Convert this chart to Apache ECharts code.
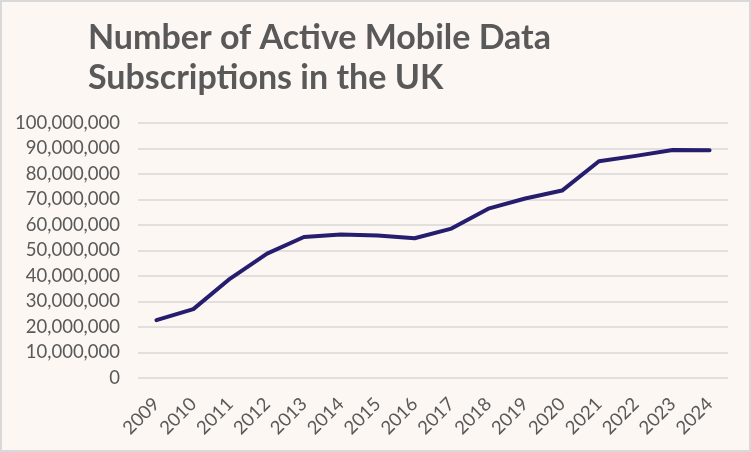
<!DOCTYPE html>
<html>
<head>
<meta charset="utf-8">
<script src="https://cdn.jsdelivr.net/npm/echarts@6/dist/echarts.min.js"></script>
<style>
    html, body { margin: 0; padding: 0; background: #fcf7f3; }
    #chart { width: 751px; height: 452px; }
</style>
</head>
<body>
<div id="chart"></div>
<script>
    // Data
    const years = ['2009', '2010', '2011', '2012', '2013', '2014', '2015', '2016',
        '2017', '2018', '2019', '2020', '2021', '2022', '2023', '2024'];
    const subscriptions = [22700000, 27000000, 39000000, 48800000, 55300000, 56300000, 55900000, 54800000,
        58600000, 66400000, 70400000, 73500000, 85000000, 87100000, 89400000, 89300000];

    let chartElem = document.getElementById('chart');
    let chart = echarts.init(chartElem);
    chart.setOption({
        backgroundColor: '#fcf7f3',
        textStyle: { fontFamily: 'Lato' },
        title: {
            text: 'Number of Active Mobile Data\nSubscriptions in the UK',
            left: 83,
            top: 13,
            textStyle: {
                fontFamily: 'Lato',
                fontSize: 34,
                fontWeight: 'bold',
                color: '#595959',
                lineHeight: 40
            }
        },
        graphic: [{
            type: 'rect',
            shape: { x: 1, y: 1, width: 749, height: 450 },
            style: { fill: 'none', stroke: '#d9d9d9', lineWidth: 2 },
            silent: true
        }],
        grid: {
            left: 138,
            right: 23,
            top: 123,
            bottom: 74
        },
        xAxis: {
            type: 'category',
            data: years,
            boundaryGap: true,
            axisLine: { show: false },
            axisTick: { show: false },
            axisLabel: {
                rotate: 45,
                margin: 23,
                fontSize: 18.5,
                color: '#595959',
                fontFamily: 'Lato'
            }
        },
        yAxis: {
            type: 'value',
            min: 0,
            max: 100000000,
            interval: 10000000,
            axisLine: { show: false },
            axisTick: { show: false },
            axisLabel: {
                margin: 18,
                fontSize: 18.5,
                color: '#595959',
                fontFamily: 'Lato',
                formatter: function(v) { return v.toLocaleString('en-US'); }
            },
            splitLine: {
                show: true,
                lineStyle: { color: '#d9d9d9', width: 1.5 }
            }
        },
        series: [{
            name: 'Subscriptions',
            type: 'line',
            data: subscriptions,
            showSymbol: false,
            lineStyle: { color: '#261d6e', width: 4, cap: 'round', join: 'round' },
            itemStyle: { color: '#261d6e' }
        }]
    });
</script>
</body>
</html>
